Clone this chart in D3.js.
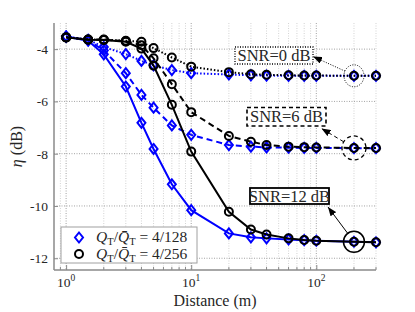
<!DOCTYPE html>
<html>
<head>
<meta charset="utf-8">
<script src="https://d3js.org/d3.v7.min.js"></script>
<style>
  body { margin: 0; background: #fff; }
  text { font-family: "Liberation Serif", "Times New Roman", serif; fill: #262626; }
</style>
</head>
<body>
<svg id="chart" width="415" height="312"></svg>
<script>
// distance (m)
const distance = [1, 1.5, 2, 3, 4, 5, 7, 10, 20, 30, 40, 60, 80, 100, 200, 300];

// eta (dB), Q_T / Qbar_T = 4/128 (blue diamonds)
const eta128Snr12 = [-3.52, -3.68, -4.2, -5.43, -6.82, -7.82, -9.17, -10.16, -11.05, -11.2, -11.24, -11.28, -11.31, -11.33, -11.37, -11.39];
const eta128Snr6  = [-3.52, -3.66, -4.05, -4.92, -5.75, -6.24, -6.92, -7.28, -7.67, -7.73, -7.76, -7.77, -7.78, -7.78, -7.79, -7.79];
const eta128Snr0  = [-3.52, -3.64, -3.92, -4.19, -4.45, -4.62, -4.8, -4.92, -4.97, -5.0, -5.01, -5.02, -5.02, -5.02, -5.02, -5.02];

// eta (dB), Q_T / Qbar_T = 4/256 (black circles)
const eta256Snr12 = [-3.55, -3.64, -3.65, -3.72, -3.98, -4.63, -6.13, -7.92, -10.22, -10.9, -11.09, -11.24, -11.3, -11.33, -11.37, -11.39];
const eta256Snr6  = [-3.55, -3.63, -3.64, -3.7, -3.85, -4.35, -5.34, -6.41, -7.32, -7.54, -7.67, -7.73, -7.75, -7.76, -7.78, -7.78];
const eta256Snr0  = [-3.55, -3.63, -3.63, -3.68, -3.72, -3.96, -4.32, -4.67, -4.88, -4.96, -4.98, -5.0, -5.01, -5.01, -5.02, -5.02];

const yTicks = [-12, -10, -8, -6, -4];
const xTickExponents = [0, 1, 2];
const legendLabels = ["4/128", "4/256"];
const snrLabels = ["SNR=0 dB", "SNR=6 dB", "SNR=12 dB"];
const markedDistance = 200;

const svg = d3.select("#chart");
const mLeft = 54, mRight = 376, mTop = 23, mBottom = 270;

const x = d3.scaleLog().domain([0.8, 300]).range([mLeft, mRight]);
const y = d3.scaleLinear().domain([-12.45, -3]).range([mBottom, mTop]);

// grid
const minorX = [];
[0.1, 1, 10, 100].forEach(d => {
  for (let k = 1; k < 10; k++) {
    const v = +(d * k).toPrecision(3);
    if (v > 0.8 && v <= 300 && [1, 10, 100].indexOf(v) < 0) minorX.push(v);
  }
});

const grid = svg.append("g");
grid.selectAll(".minor").data(minorX).enter().append("line")
    .attr("x1", d => x(d)).attr("x2", d => x(d))
    .attr("y1", mTop).attr("y2", mBottom)
    .attr("stroke", "#c8c8c8").attr("stroke-width", 0.8).attr("stroke-dasharray", "1,1.5");
grid.selectAll(".majx").data(xTickExponents).enter().append("line")
    .attr("x1", d => x(Math.pow(10, d))).attr("x2", d => x(Math.pow(10, d)))
    .attr("y1", mTop).attr("y2", mBottom)
    .attr("stroke", "#8a8a8a").attr("stroke-width", 0.8).attr("stroke-dasharray", "1,1.5");
grid.selectAll(".majy").data(yTicks).enter().append("line")
    .attr("x1", mLeft).attr("x2", mRight)
    .attr("y1", d => y(d)).attr("y2", d => y(d))
    .attr("stroke", "#8a8a8a").attr("stroke-width", 0.8).attr("stroke-dasharray", "1,1.5");

// axes
const yAxis = svg.append("g")
    .attr("transform", `translate(${mLeft},0)`)
    .call(d3.axisRight(y).tickValues(yTicks).tickSize(4).tickFormat(d => "-" + Math.abs(d)));
yAxis.select(".domain").attr("stroke", "#8a8a8a").attr("stroke-width", 1.5).attr("d", `M0,${mTop}V${mBottom}`);
yAxis.selectAll(".tick line").attr("stroke", "#8a8a8a");
yAxis.selectAll(".tick text").attr("x", -6).attr("text-anchor", "end")
    .style("font-family", '"Liberation Serif", serif').style("font-size", "13.5px").attr("fill", "#262626");

const xAxis = svg.append("g")
    .attr("transform", `translate(0,${mBottom})`)
    .call(d3.axisTop(x).tickValues(xTickExponents.map(e => Math.pow(10, e))).tickSize(5).tickFormat(""));
xAxis.select(".domain").attr("stroke", "#8a8a8a").attr("stroke-width", 1.5).attr("d", `M${mLeft},0H${mRight}`);
xAxis.selectAll(".tick line").attr("stroke", "#8a8a8a");
xAxis.selectAll(".minor").data(minorX).enter().append("line")
    .attr("x1", d => x(d)).attr("x2", d => x(d)).attr("y1", 0).attr("y2", -3)
    .attr("stroke", "#8a8a8a");

const xLab = svg.append("g").selectAll("text").data(xTickExponents).enter().append("text")
    .attr("x", d => x(Math.pow(10, d)))
    .attr("y", 286.5)
    .attr("text-anchor", "middle")
    .style("font-size", "13.5px");
xLab.append("tspan").text("10");
xLab.append("tspan").attr("dy", -6).style("font-size", "9.5px").text(d => d);

svg.append("text").attr("x", (mLeft + mRight) / 2).attr("y", 306)
    .attr("text-anchor", "middle").style("font-size", "16px").text("Distance (m)");

const yl = svg.append("text").attr("transform", `translate(22,${(mTop + mBottom) / 2}) rotate(-90)`)
    .attr("text-anchor", "middle").style("font-size", "16px");
yl.append("tspan").style("font-style", "italic").text("η");
yl.append("tspan").text(" (dB)");

// series
const series = [
  { v: eta128Snr12, color: "#0000ff", dash: null, mark: "diamond" },
  { v: eta128Snr6, color: "#0000ff", dash: "6,4", mark: "diamond" },
  { v: eta128Snr0, color: "#0000ff", dash: "1.5,2", mark: "diamond" },
  { v: eta256Snr12, color: "#000", dash: null, mark: "circle" },
  { v: eta256Snr6, color: "#000", dash: "6,4", mark: "circle" },
  { v: eta256Snr0, color: "#000", dash: "1.5,2", mark: "circle" }
];

const line = d3.line().x(d => x(d[0])).y(d => y(d[1]));
const diamond = "M0,-5L4,0L0,5L-4,0Z";

series.forEach(s => {
  const pts = distance.map((d, i) => [d, s.v[i]]);
  svg.append("path").datum(pts)
      .attr("d", line)
      .attr("fill", "none")
      .attr("stroke", s.color)
      .attr("stroke-width", 2)
      .attr("stroke-dasharray", s.dash);
  const g = svg.append("g");
  if (s.mark === "diamond") {
    g.selectAll("path").data(pts).enter().append("path")
        .attr("d", diamond)
        .attr("transform", d => `translate(${x(d[0])},${y(d[1])})`)
        .attr("fill", "none").attr("stroke", s.color).attr("stroke-width", 2);
  } else {
    g.selectAll("circle").data(pts).enter().append("circle")
        .attr("cx", d => x(d[0])).attr("cy", d => y(d[1])).attr("r", 4)
        .attr("fill", "none").attr("stroke", s.color).attr("stroke-width", 2);
  }
});

// annotations
svg.append("defs").append("marker")
    .attr("id", "head").attr("markerUnits", "userSpaceOnUse")
    .attr("markerWidth", 9).attr("markerHeight", 7)
    .attr("refX", 9).attr("refY", 3.5).attr("orient", "auto")
    .append("path").attr("d", "M0,0L9,3.5L0,7Z").attr("fill", "#000");

const notes = [
  { s: eta256Snr0, box: [235, 47, 78, 17], tip: [313, 56.5], rx: 10, ry: 11, dash: "1,1.5", w: 1 },
  { s: eta256Snr6, box: [247, 107.5, 79, 18.5], tip: [321.5, 128.5], rx: 12, ry: 12, dash: "4,3", w: 1.3 },
  { s: eta256Snr12, box: [250, 188, 79, 16], tip: [328, 207], rx: 10.5, ry: 10.5, dash: null, w: 1.5 }
];
const mi = distance.indexOf(markedDistance);
notes.forEach((n, i) => {
  const cx = x(markedDistance), cy = y(n.s[mi]);
  svg.append("ellipse").attr("cx", cx).attr("cy", cy).attr("rx", n.rx).attr("ry", n.ry)
      .attr("fill", "none").attr("stroke", "#000").attr("stroke-width", n.w).attr("stroke-dasharray", n.dash);
  const a = Math.atan2(n.tip[1] - cy, n.tip[0] - cx);
  svg.append("line")
      .attr("x1", cx + n.rx * Math.cos(a)).attr("y1", cy + n.ry * Math.sin(a))
      .attr("x2", n.tip[0]).attr("y2", n.tip[1])
      .attr("stroke", "#000").attr("stroke-width", 1).attr("stroke-dasharray", n.dash)
      .attr("marker-end", "url(#head)");
  svg.append("rect").attr("x", n.box[0]).attr("y", n.box[1]).attr("width", n.box[2]).attr("height", n.box[3])
      .attr("fill", "#fff").attr("stroke", "#000").attr("stroke-width", n.w + 0.3).attr("stroke-dasharray", n.dash);
  svg.append("text").attr("x", n.box[0] + n.box[2] / 2).attr("y", n.box[1] + n.box[3] / 2 + 5.5)
      .attr("text-anchor", "middle").style("font-size", "16.5px").text(snrLabels[i]);
});

// legend
const lg = svg.append("g");
lg.append("rect").attr("x", 61).attr("y", 227).attr("width", 136).attr("height", 36)
    .attr("fill", "#fff").attr("stroke", "#a0a0a0").attr("stroke-width", 1);
legendLabels.forEach((lab, i) => {
  const cy = 237.5 + i * 16.5;
  if (i === 0) {
    lg.append("path").attr("d", diamond).attr("transform", `translate(79,${cy})`)
        .attr("fill", "none").attr("stroke", "#0000ff").attr("stroke-width", 2);
  } else {
    lg.append("circle").attr("cx", 79).attr("cy", cy).attr("r", 4)
        .attr("fill", "none").attr("stroke", "#000").attr("stroke-width", 2);
  }
  const t = lg.append("text").attr("x", 96).attr("y", cy + 4.5).style("font-size", "15.5px");
  t.append("tspan").style("font-style", "italic").text("Q");
  t.append("tspan").attr("dy", 3).style("font-size", "10.5px").text("T");
  t.append("tspan").attr("dy", -3).text("/");
  t.append("tspan").style("font-style", "italic").text("Q\u0304");
  t.append("tspan").attr("dy", 3).style("font-size", "10.5px").text("T");
  t.append("tspan").attr("dy", -3).text(" = " + lab);
});
</script>
</body>
</html>
